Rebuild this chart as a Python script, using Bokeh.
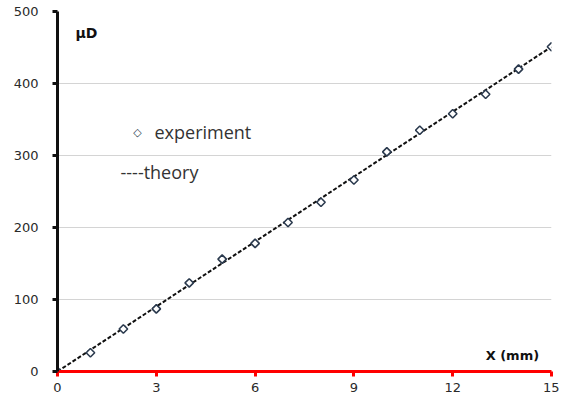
from bokeh.plotting import figure
from bokeh.models import Range1d, FixedTicker
from bokeh.core.properties import value
from bokeh.embed import file_html
from bokeh.resources import INLINE

# data
x_exp = [0, 1, 2, 3, 4, 5, 6, 7, 8, 9, 10, 11, 12, 13, 14, 15]
y_exp = [0, 26, 59, 87, 123, 156, 178, 207, 235, 266, 305, 335, 358, 385, 420, 451]
x_theory = [0, 15]
y_theory = [0, 451]
x_ticks = [0, 3, 6, 9, 12, 15]
y_ticks = [0, 100, 200, 300, 400, 500]

p = figure(width=559, height=398, output_backend="svg", toolbar_location=None,
           x_range=Range1d(0, 15), y_range=Range1d(0, 500),
           min_border_left=57, min_border_right=8, min_border_top=11, min_border_bottom=27)
p.outline_line_color = None

p.xgrid.visible = False
p.ygrid.grid_line_color = "#d4d4d4"
p.ygrid.grid_line_width = 1
p.ygrid.ticker = FixedTicker(ticks=y_ticks)

p.xaxis.ticker = FixedTicker(ticks=x_ticks)
p.yaxis.ticker = FixedTicker(ticks=y_ticks)
p.xaxis.axis_line_color = "red"
p.xaxis.major_tick_line_color = "red"
p.yaxis.axis_line_color = "#101010"
p.yaxis.major_tick_line_color = "#101010"
p.axis.axis_line_width = 3
p.axis.major_tick_line_width = 3
p.axis.major_tick_out = 5
p.axis.major_tick_in = 0
p.axis.minor_tick_line_color = None
p.axis.major_label_text_font = "DejaVu Sans"
p.axis.major_label_text_font_size = "13px"
p.axis.major_label_text_color = "#2a2a2a"
p.xaxis.major_label_standoff = 6
p.yaxis.major_label_standoff = 14

p.line(x_theory, y_theory, line_color="#111111", line_width=2, line_dash="4 2")
p.scatter(x_exp, y_exp, marker="square", size=6, angle=0.7853981634,
          fill_color="white", line_color="#2b3a4e", line_width=1.6)

p.text(x=[2.43], y=[332], text=["◇"], text_font=value("DejaVu Sans"),
       text_baseline="middle", text_align="center", text_font_size="11px",
       text_color="#2b3a4e", text_font_style="bold")
p.text(x=[2.945], y=[332], text=["experiment"], text_font=value("Open Sans"),
       text_baseline="middle", text_font_size="18px", text_color="#333333")
p.text(x=[1.913], y=[276.4], text=["----theory"], text_font=value("Open Sans"),
       text_baseline="middle", text_font_size="18px", text_color="#333333")
p.text(x=[0.547], y=[470.8], text=["µD"], text_font=value("DejaVu Sans"),
       text_font_style="bold", text_baseline="middle", text_font_size="14px",
       text_color="#111111")
p.text(x=[13.0], y=[22.2], text=["X (mm)"], text_font=value("DejaVu Sans"),
       text_font_style="bold", text_baseline="middle", text_font_size="13px",
       text_color="#111111")

open("out.html", "w").write(file_html(p, INLINE))
